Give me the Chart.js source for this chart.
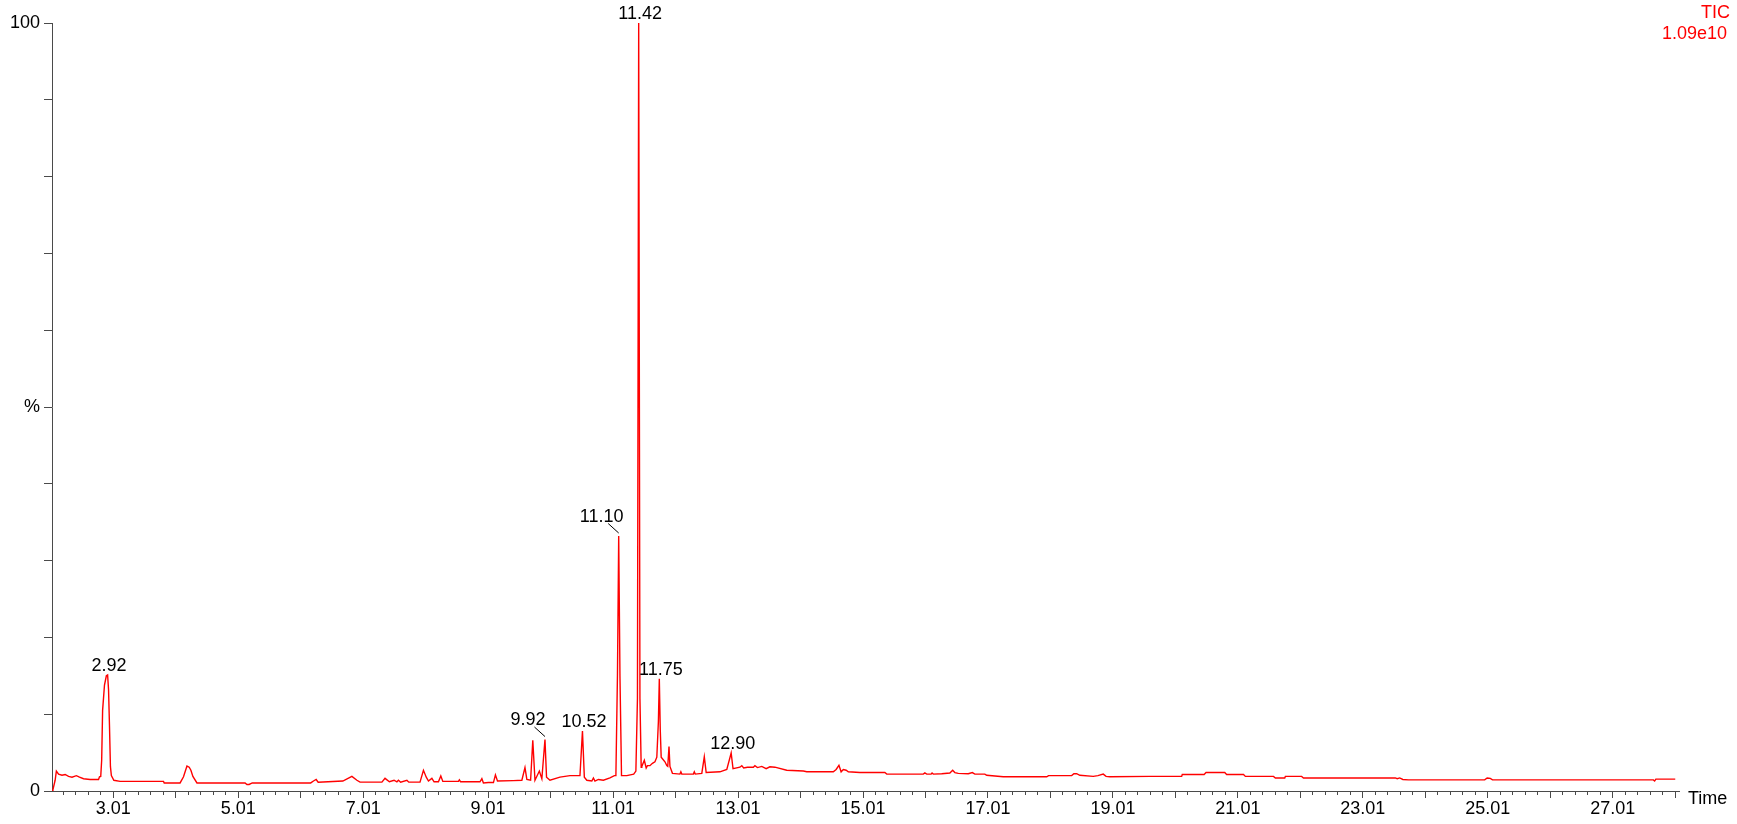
<!DOCTYPE html>
<html>
<head>
<meta charset="utf-8">
<title>TIC</title>
<script src="https://cdn.jsdelivr.net/npm/chart.js@4/dist/chart.umd.min.js"></script>
<style>
  html, body { margin: 0; padding: 0; background: #ffffff; }
  #wrap { position: relative; width: 1737px; height: 824px; }
</style>
</head>
<body>
<div id="wrap"><canvas id="tic"></canvas></div>
<script>
// Retention time (min) and relative intensity (%) of the total ion current trace
const rtMinutes = [
  2.03, 2.045, 2.08, 2.10, 2.135, 2.19, 2.24, 2.295, 2.35, 2.42, 2.47, 2.535, 2.64, 2.775, 2.79, 2.81,
  2.825, 2.84, 2.87, 2.90, 2.92, 2.935, 2.95, 2.965, 2.98, 3.02, 3.12, 3.815, 3.826, 4.08, 4.135, 4.19,
  4.226, 4.253, 4.285, 4.35, 5.12, 5.15, 5.185, 5.235, 6.17, 6.215, 6.258, 6.29, 6.685, 6.83, 6.91, 6.96,
  7.31, 7.36, 7.43, 7.505, 7.55, 7.575, 7.61, 7.71, 7.74, 7.92, 7.975, 8.02, 8.055, 8.11, 8.145, 8.215,
  8.253, 8.285, 8.535, 8.55, 8.57, 8.88, 8.91, 8.935, 9.015, 9.095, 9.127, 9.16, 9.415, 9.55, 9.60, 9.63,
  9.69, 9.725, 9.76, 9.83, 9.87, 9.92, 9.945, 10.0, 10.16, 10.24, 10.32, 10.48, 10.52, 10.55, 10.59, 10.67,
  10.695, 10.72, 10.775, 10.855, 10.96, 11.03, 11.055, 11.08, 11.10, 11.12, 11.145, 11.23, 11.34, 11.375, 11.40, 11.42,
  11.44, 11.46, 11.47, 11.51, 11.54, 11.56, 11.60, 11.64, 11.68, 11.71, 11.735, 11.75, 11.765, 11.78, 11.80, 11.84,
  11.87, 11.885, 11.905, 11.92, 11.96, 12.08, 12.095, 12.11, 12.295, 12.31, 12.325, 12.43, 12.47, 12.50, 12.72, 12.83,
  12.90, 12.93, 13.04, 13.07, 13.10, 13.16, 13.255, 13.28, 13.32, 13.39, 13.46, 13.52, 13.60, 13.79, 14.055, 14.11,
  14.535, 14.58, 14.625, 14.66, 14.695, 14.74, 14.775, 14.96, 15.36, 15.39, 15.975, 16.0, 16.03, 16.10, 16.115, 16.135,
  16.27, 16.40, 16.445, 16.48, 16.535, 16.695, 16.76, 16.80, 16.96, 16.99, 17.255, 17.95, 17.98, 18.35, 18.385, 18.43,
  18.48, 18.695, 18.77, 18.855, 18.90, 18.96, 19.60, 20.11, 20.12, 20.47, 20.50, 20.80, 20.83, 21.10, 21.13, 21.58,
  21.61, 21.76, 21.77, 22.03, 22.06, 23.53, 23.56, 23.60, 23.65, 23.74, 24.96, 25.0, 25.05, 25.085, 27.66, 27.68,
  27.70, 28.01
];
const relIntensity = [
  0.0, 0.2, 1.4, 2.6, 2.2, 2.05, 2.15, 1.9, 1.8, 2.0, 1.8, 1.6, 1.5, 1.5, 1.85, 1.9,
  4.0, 10.5, 13.8, 15.0, 15.1, 13.2, 8.5, 3.2, 2.0, 1.4, 1.25, 1.25, 1.05, 1.05, 1.85, 3.25,
  3.1, 2.7, 1.9, 1.05, 1.05, 0.85, 0.85, 1.05, 1.05, 1.3, 1.5, 1.15, 1.3, 1.9, 1.4, 1.15,
  1.15, 1.65, 1.2, 1.4, 1.2, 1.4, 1.15, 1.4, 1.15, 1.15, 2.7, 1.8, 1.3, 1.65, 1.2, 1.2,
  1.95, 1.25, 1.25, 1.45, 1.2, 1.2, 1.6, 1.05, 1.1, 1.1, 2.1, 1.3, 1.35, 1.4, 3.05, 1.5,
  1.4, 6.6, 1.4, 2.6, 1.6, 6.7, 1.8, 1.4, 1.8, 1.9, 2.0, 2.0, 7.8, 1.8, 1.4, 1.3,
  1.7, 1.3, 1.5, 1.4, 1.7, 2.0, 2.0, 15.0, 33.2, 15.0, 2.0, 2.0, 2.2, 2.6, 12.0, 100.0,
  12.0, 3.1, 3.2, 4.0, 3.0, 3.3, 3.3, 3.6, 3.8, 4.4, 9.0, 14.6, 8.0, 4.4, 4.2, 3.8,
  3.3, 3.2, 5.8, 3.2, 2.3, 2.2, 2.5, 2.2, 2.2, 2.5, 2.2, 2.3, 4.45, 2.4, 2.5, 2.8,
  4.95, 2.9, 3.1, 3.3, 3.0, 3.1, 3.1, 3.3, 3.05, 3.2, 2.9, 3.15, 3.1, 2.7, 2.6, 2.5,
  2.5, 2.8, 3.35, 2.5, 2.8, 2.7, 2.5, 2.4, 2.4, 2.2, 2.2, 2.35, 2.2, 2.2, 2.35, 2.2,
  2.25, 2.35, 2.7, 2.4, 2.3, 2.25, 2.4, 2.2, 2.2, 2.05, 1.85, 1.85, 2.0, 2.0, 2.25, 2.25,
  2.05, 1.9, 2.0, 2.2, 1.9, 1.85, 1.9, 1.9, 2.15, 2.15, 2.4, 2.4, 2.15, 2.15, 1.9, 1.9,
  1.7, 1.7, 1.9, 1.9, 1.7, 1.7, 1.6, 1.7, 1.5, 1.45, 1.45, 1.7, 1.65, 1.45, 1.45, 1.3,
  1.55, 1.55
];

// Labelled peaks (retention times as printed above each apex)
const peakTimes  = [2.92, 9.92, 10.52, 11.10, 11.42, 11.75, 12.90];
const peakLabels = ['2.92', '9.92', '10.52', '11.10', '11.42', '11.75', '12.90'];
const peakLeader = [false, true, false, true, false, false, false];

// Axis ticks
const xMajorTicks = [3.01, 4.01, 5.01, 6.01, 7.01, 8.01, 9.01, 10.01, 11.01, 12.01, 13.01, 14.01, 15.01,
  16.01, 17.01, 18.01, 19.01, 20.01, 21.01, 22.01, 23.01, 24.01, 25.01, 26.01, 27.01, 28.01];
const xTickLabels = ['3.01', '5.01', '7.01', '9.01', '11.01', '13.01', '15.01', '17.01', '19.01',
  '21.01', '23.01', '25.01', '27.01'];
const yTicks = [0, 10, 20, 30, 40, 50, 60, 70, 80, 90, 100];
const yTickLabels = { 0: '0', 50: '%', 100: '100' };

const X_MIN = 2.03, X_MAX = 28.07;
const FONT = '"Liberation Sans", Arial, Helvetica, sans-serif';
const AXIS_COLOR = '#4a4a4a';

// minor ticks every 0.2 min, aligned on the x.01 marks
const xMinorTicks = [];
for (let k = 221; k <= 2801; k += 20) xMinorTicks.push(k / 100);

const traceData = rtMinutes.map((t, i) => ({ x: t, y: relIntensity[i] }));

const peakLabelPlugin = {
  id: 'peakLabels',
  afterDatasetsDraw(chart) {
    const { ctx, scales } = chart;
    const xs = scales.x, ys = scales.y;
    ctx.save();
    ctx.font = '18px ' + FONT;
    ctx.fillStyle = '#000000';
    ctx.strokeStyle = '#000000';
    ctx.lineWidth = 1;
    ctx.textAlign = 'center';
    ctx.textBaseline = 'alphabetic';
    peakTimes.forEach((t, k) => {
      const idx = rtMinutes.indexOf(t);
      const px = xs.getPixelForValue(t);
      const py = ys.getPixelForValue(relIntensity[idx]);
      if (peakLeader[k]) {
        ctx.fillText(peakLabels[k], px - 17, py - 14.5);
        ctx.beginPath();
        ctx.moveTo(px - 10.5, py - 12.5);
        ctx.lineTo(px, py - 3);
        ctx.stroke();
      } else {
        ctx.fillText(peakLabels[k], px + 1.5, py - 4.2);
      }
    });
    ctx.restore();
  }
};

const headerPlugin = {
  id: 'headerText',
  afterDraw(chart) {
    const { ctx } = chart;
    ctx.save();
    ctx.font = '18px ' + FONT;
    ctx.textBaseline = 'alphabetic';
    ctx.fillStyle = '#ff0000';
    ctx.textAlign = 'right';
    ctx.fillText('TIC', 1730, 17.8);
    ctx.fillText('1.09e10', 1727, 39.4);
    ctx.fillStyle = '#000000';
    ctx.textAlign = 'left';
    ctx.fillText('Time', 1688, 804);
    ctx.restore();
  }
};

new Chart(document.getElementById('tic'), {
  type: 'line',
  data: {
    datasets: [{
      data: traceData,
      borderColor: '#ff0000',
      borderWidth: 1.4,
      pointRadius: 0,
      tension: 0,
      fill: false
    }]
  },
  options: {
    responsive: true,
    maintainAspectRatio: false,
    animation: false,
    devicePixelRatio: 1,
    layout: { padding: { top: 23, right: 58, bottom: 0, left: 0 } },
    plugins: { legend: { display: false }, tooltip: { enabled: false } },
    scales: {
      x: {
        type: 'linear',
        position: 'bottom',
        min: X_MIN,
        max: X_MAX,
        afterBuildTicks: (s) => { s.ticks = xMajorTicks.map(v => ({ value: v })); },
        afterFit: (s) => { s.height = 33; },
        grid: { display: true, drawOnChartArea: false, drawTicks: true, tickLength: 7, color: AXIS_COLOR, lineWidth: 1 },
        border: { display: true, color: AXIS_COLOR, width: 1 },
        ticks: {
          autoSkip: false,
          maxRotation: 0,
          minRotation: 0,
          padding: 0,
          color: '#000000',
          font: { family: FONT, size: 18 },
          callback: (v) => {
            const s = (Math.round(v * 100) / 100).toFixed(2);
            return xTickLabels.includes(s) ? s : '';
          }
        }
      },
      xMinor: {
        type: 'linear',
        axis: 'x',
        position: { y: 0 },
        min: X_MIN,
        max: X_MAX,
        afterBuildTicks: (s) => { s.ticks = xMinorTicks.map(v => ({ value: v })); },
        grid: { display: true, drawOnChartArea: false, drawTicks: true, tickLength: 4, color: AXIS_COLOR, lineWidth: 1 },
        border: { display: false },
        ticks: { display: false, autoSkip: false }
      },
      y: {
        type: 'linear',
        position: 'left',
        min: 0,
        max: 100,
        afterBuildTicks: (s) => { s.ticks = yTicks.map(v => ({ value: v })); },
        afterFit: (s) => { s.width = 52; },
        grid: { display: true, drawOnChartArea: false, drawTicks: true, tickLength: 8, color: AXIS_COLOR, lineWidth: 1 },
        border: { display: true, color: AXIS_COLOR, width: 1 },
        ticks: {
          autoSkip: false,
          padding: 4,
          color: '#000000',
          font: { family: FONT, size: 18 },
          callback: (v) => (yTickLabels[v] !== undefined ? yTickLabels[v] : '')
        }
      }
    }
  },
  plugins: [peakLabelPlugin, headerPlugin]
});
</script>
</body>
</html>
